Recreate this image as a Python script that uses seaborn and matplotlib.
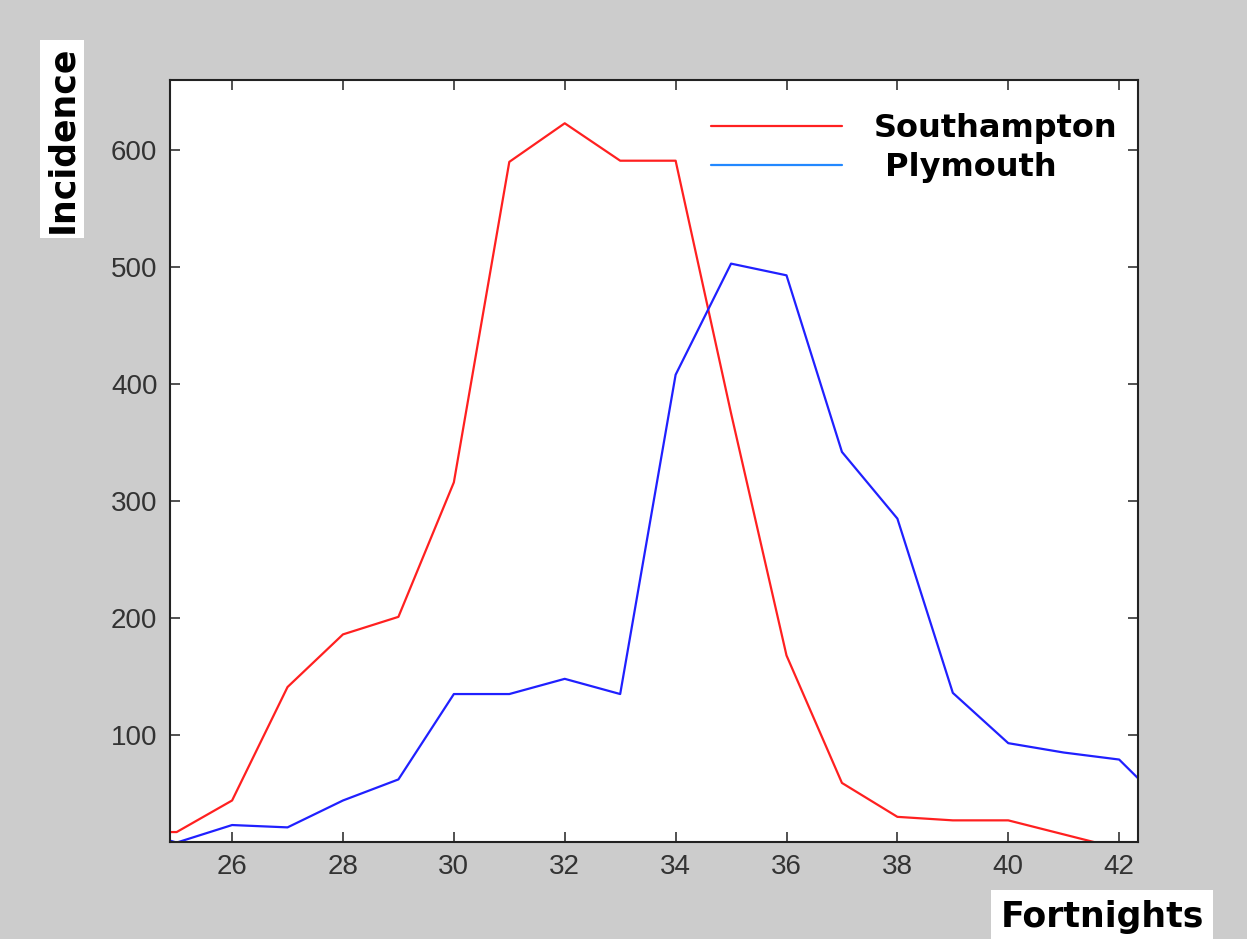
import matplotlib

matplotlib.use("Agg")
import matplotlib.pyplot as plt
import pandas as pd
import seaborn as sns

# values
fortnights = list(range(24, 44))
southampton = [17, 17, 44, 141, 186, 201, 316, 590, 623, 591,
               591, 375, 168, 59, 30, 27, 27, 15, 3, 0]
plymouth = [22, 8, 23, 21, 44, 62, 135, 135, 148, 135,
            408, 503, 493, 342, 285, 136, 93, 85, 79, 32]
x_ticks = list(range(26, 43, 2))
y_ticks = [100, 200, 300, 400, 500, 600]

df = pd.concat(
    [
        pd.DataFrame({"fortnight": fortnights, "incidence": southampton, "city": "Southampton"}),
        pd.DataFrame({"fortnight": fortnights, "incidence": plymouth, "city": " Plymouth"}),
    ],
    ignore_index=True,
)

sns.set_style("ticks")
plt.rcParams["font.family"] = ["Liberation Sans", "DejaVu Sans"]

fig = plt.figure(figsize=(12.47, 9.39), dpi=100, facecolor="#cccccc")
ax = fig.add_axes([170 / 1247, 1 - 842 / 939, (1138 - 170) / 1247, (842 - 80) / 939])
ax.set_facecolor("white")

palette = {"Southampton": "#ff2020", " Plymouth": "#2020ff"}
sns.lineplot(
    ax=ax,
    data=df,
    x="fortnight",
    y="incidence",
    hue="city",
    palette=palette,
    estimator=None,
    linewidth=1.6,
)

ax.set_xlim(24.88, 42.34)
ax.set_ylim(8.5, 660)
ax.set_xticks(x_ticks)
ax.set_yticks(y_ticks)
ax.set_xlabel("")
ax.set_ylabel("")
ax.tick_params(direction="in", length=7, width=1.2, top=True, right=True,
               labelsize=20, labelcolor="#333333", color="#333333", pad=9)
for sp in ax.spines.values():
    sp.set_linewidth(1.5)
    sp.set_color("#222222")

handles, labels = ax.get_legend_handles_labels()
leg = ax.legend(
    handles, labels,
    loc="upper left",
    bbox_to_anchor=(711 / 1247, 1 - 113 / 939),
    bbox_transform=fig.transFigure,
    frameon=False,
    borderpad=0,
    borderaxespad=0,
    handlelength=4.1,
    handletextpad=1.0,
    labelspacing=0.26,
    prop={"family": "DejaVu Sans", "weight": "bold", "size": 23},
)
leg.get_lines()[1].set_color("#2288ff")
for t in leg.get_texts():
    t.set_color("black")

fig.text(62 / 1247, 1 - 139 / 939, "Incidence", rotation=90, ha="center", va="center",
         family="DejaVu Sans", weight="bold", fontsize=25, color="black",
         bbox=dict(facecolor="white", edgecolor="none", pad=3.6))
fig.text(1102 / 1247, 1 - 917 / 939, "Fortnights", ha="center", va="center",
         family="DejaVu Sans", weight="bold", fontsize=25, color="black",
         bbox=dict(facecolor="white", edgecolor="none", pad=7))

fig.savefig("out.png", dpi=100, facecolor=fig.get_facecolor())
